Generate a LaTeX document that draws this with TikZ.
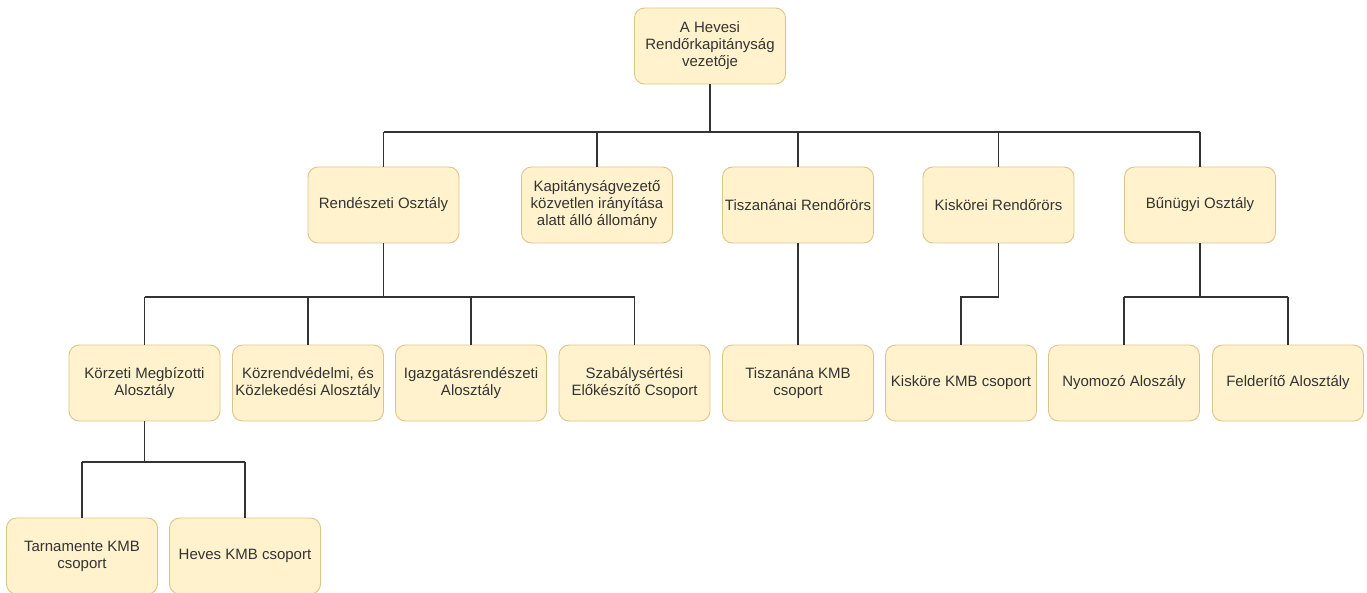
\documentclass[tikz,border=0pt]{standalone}
\usepackage{fontspec}
\setmainfont{Liberation Sans}
\definecolor{boxfill}{HTML}{FFF2CC}
\definecolor{boxline}{HTML}{DCC58A}
\definecolor{txt}{HTML}{333333}
\definecolor{lin}{HTML}{333333}
\tikzset{
  box/.style={draw=boxline, fill=boxfill, rounded corners=10pt, line width=0.9pt,
    minimum width=151pt, minimum height=76pt, align=center, inner sep=1pt,
    text=txt, font=\fontsize{15}{17}\selectfont},
  conn/.style={draw=lin, line width=1.4pt}
}
\begin{document}
\begin{tikzpicture}[x=1pt,y=-1pt]
\useasboundingbox (0,0) rectangle (1367,592);
\fill[white] (0,0) rectangle (1367,592);
% top
\node[box] (top) at (710,46) {A Hevesi\\Rendőrkapitányság\\vezetője};
% level 2
\node[box] (ren) at (383.5,205) {Rendészeti Osztály};
\node[box] (kap) at (597,205) {Kapitányságvezető\\közvetlen irányítása\\alatt álló állomány};
\node[box] (tis) at (798,205) {Tiszanánai Rendőrörs};
\node[box] (kis) at (998.5,205) {Kiskörei Rendőrörs};
\node[box] (bun) at (1200,205) {Bűnügyi Osztály};
% level 3
\node[box] (kor) at (144.5,383) {Körzeti Megbízotti\\Alosztály};
\node[box] (koz) at (308,383) {Közrendvédelmi, és\\Közlekedési Alosztály};
\node[box] (igt) at (471,383) {Igazgatásrendészeti\\Alosztály};
\node[box] (szb) at (634.5,383) {Szabálysértési\\Előkészítő Csoport};
\node[box] (tkm) at (798,383) {Tiszanána KMB\\csoport};
\node[box] (kkm) at (961,383) {Kisköre KMB csoport};
\node[box] (nyo) at (1124,383) {Nyomozó Aloszály};
\node[box] (fel) at (1288,383) {Felderítő Alosztály};
% level 4
\node[box] (tar) at (82,556) {Tarnamente KMB\\csoport};
\node[box] (hev) at (245,556) {Heves KMB csoport};
% bus levels
\coordinate (b1) at (0,132);
\coordinate (b2) at (0,297);
\coordinate (b3) at (0,462);
% connectors: top -> level 2
\draw[conn] (top.south) -- (top.south |- b1);
\draw[conn] (ren.north |- b1) -- (bun.north |- b1);
\foreach \c in {ren,kap,tis,kis,bun}
  \draw[conn] (\c.north |- b1) -- (\c.north);
% Rendeszeti -> level 3
\draw[conn] (ren.south) -- (ren.south |- b2);
\draw[conn] (kor.north |- b2) -- (szb.north |- b2);
\foreach \c in {kor,koz,igt,szb}
  \draw[conn] (\c.north |- b2) -- (\c.north);
% Tiszananai
\draw[conn] (tis.south) -- (tkm.north);
% Kiskorei
\draw[conn] (kis.south) -- (kis.south |- b2) -| (kkm.north);
% Bunugyi
\draw[conn] (bun.south) -- (bun.south |- b2);
\draw[conn] (nyo.north |- b2) -- (fel.north |- b2);
\foreach \c in {nyo,fel}
  \draw[conn] (\c.north |- b2) -- (\c.north);
% Korzeti -> level 4
\draw[conn] (kor.south) -- (kor.south |- b3);
\draw[conn] (tar.north |- b3) -- (hev.north |- b3);
\foreach \c in {tar,hev}
  \draw[conn] (\c.north |- b3) -- (\c.north);
\end{tikzpicture}
\end{document}
